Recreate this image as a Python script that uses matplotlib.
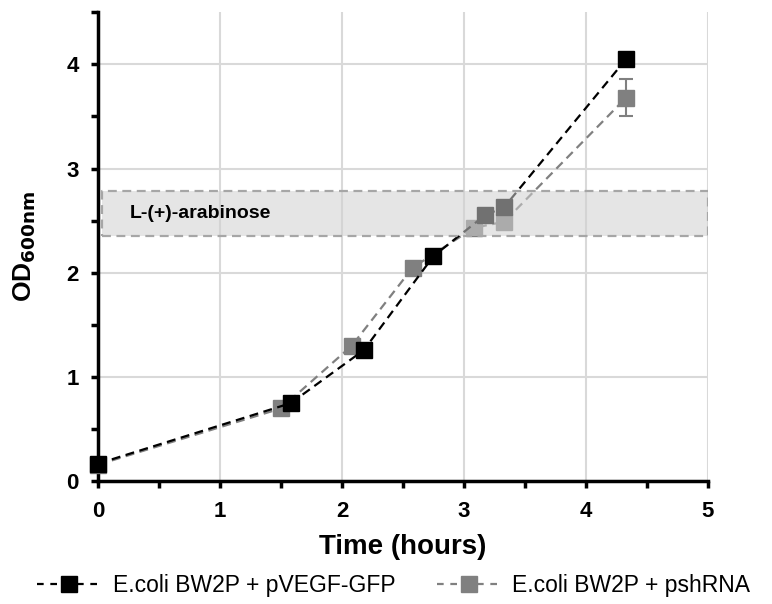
import matplotlib.pyplot as plt
import numpy as np
from matplotlib.lines import Line2D

plt.rcParams['font.family'] = ['Liberation Sans', 'DejaVu Sans']

# data
t_gfp = [0, 1.58, 2.18, 2.75, 3.17, 3.33, 4.33]
od_gfp = [0.17, 0.75, 1.26, 2.16, 2.55, 2.63, 4.05]
t_sh = [0, 1.5, 2.08, 2.58, 3.08, 3.33, 4.33]
od_sh = [0.16, 0.70, 1.30, 2.05, 2.43, 2.49, 3.68]
err_sh = [0, 0, 0, 0, 0, 0, 0.18]
band_y = [2.35, 2.78]
band_x = [0.03, 5.0]

fig = plt.figure(figsize=(7.72, 6.04), dpi=100)
ax = fig.add_axes([0.127, 0.203, 0.79, 0.777])

ax.errorbar(t_sh, od_sh, yerr=err_sh, color="#808080", ls=(0, (4, 2.5)), lw=1.6,
            marker="s", ms=11, capsize=5, elinewidth=1.5, capthick=1.5,
            zorder=3, clip_on=False)
ax.plot(t_gfp, od_gfp, color="black", ls=(0, (4, 2.5)), lw=1.6,
        marker="s", ms=11, zorder=4, clip_on=False)

# arabinose band drawn over the curves
ax.fill_between(band_x, band_y[0], band_y[1], color="#d0d0d0", alpha=0.55,
                zorder=5, lw=0)
ax.plot([band_x[0], band_x[1], band_x[1], band_x[0], band_x[0]],
        [band_y[0], band_y[0], band_y[1], band_y[1], band_y[0]],
        color="#a6a6a6", ls=(0, (4, 2.5)), lw=1.6, zorder=6)
ax.text(0.26, np.mean(band_y), "L-(+)-arabinose", fontsize=14, fontweight="bold",
        va="center", ha="left", zorder=7)

ax.set_xlim(0, 5)
ax.set_ylim(0, 4.5)
ax.set_xticks([0, 1, 2, 3, 4, 5])
ax.set_yticks([0, 1, 2, 3, 4])
ax.set_xticks(np.arange(0, 5.01, 0.5), minor=True)
ax.set_yticks(np.arange(0, 4.51, 0.5), minor=True)
ax.grid(True, which="major", color="#d9d9d9", lw=1.5, zorder=0)
ax.set_axisbelow(True)
for s in ["top", "right"]:
    ax.spines[s].set_visible(False)
for s in ["left", "bottom"]:
    ax.spines[s].set_linewidth(2.5)
ax.tick_params(which="both", direction="out", width=2.5, length=5)
ax.tick_params(labelsize=16, pad=9)
for lab in ax.get_xticklabels() + ax.get_yticklabels():
    lab.set_fontweight("bold")

ax.set_xlabel("Time (hours)", fontsize=20, fontweight="bold", labelpad=9)
ax.set_ylabel(r"OD$_{\mathbf{600nm}}$", fontsize=19, fontweight="bold", labelpad=20)

h1 = Line2D([], [], color="black", ls=(0, (3, 3)), lw=1.6, marker="s", ms=11)
h2 = Line2D([], [], color="#808080", ls=(0, (3, 3)), lw=1.6, marker="s", ms=11)
fig.legend([h1, h2], ["E.coli BW2P + pVEGF-GFP", "E.coli BW2P + pshRNA"],
           loc="center", ncol=2, frameon=False, fontsize=16.5,
           bbox_to_anchor=(0.51, 0.03), handlelength=2.8, handletextpad=0.5,
           columnspacing=1.8)

fig.savefig("out.png", dpi=100)
